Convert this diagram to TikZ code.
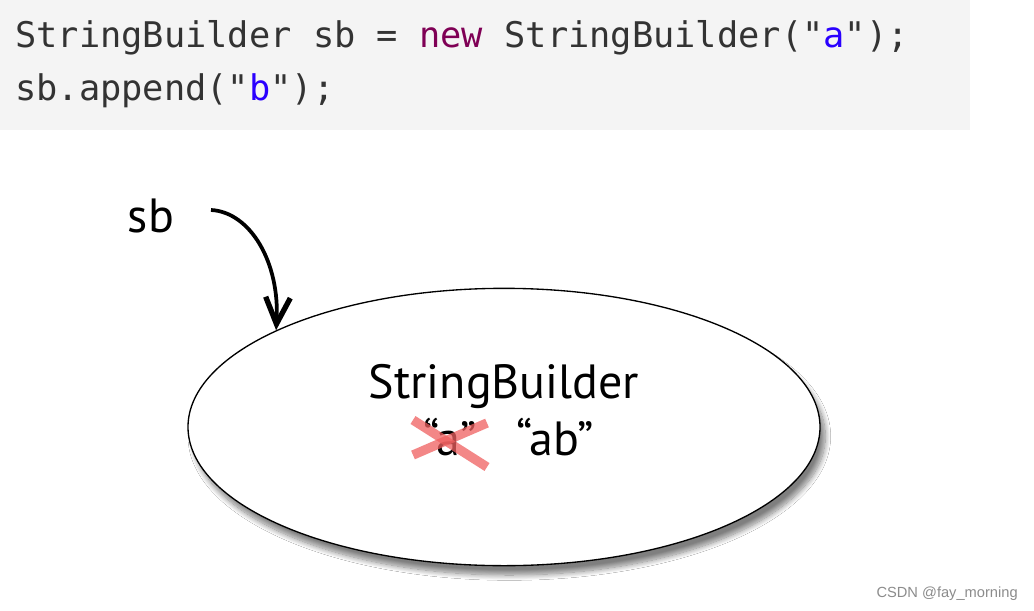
\documentclass[tikz,border=0pt]{standalone}
\usepackage{fontspec}
\setmainfont{PT Sans}
\setmonofont{DejaVu Sans Mono}
\newfontfamily\markfont{Liberation Sans}
\usetikzlibrary{arrows.meta,positioning,shapes.geometric,shadows.blur}
\definecolor{codebg}{HTML}{F4F4F4}
\definecolor{codetext}{HTML}{333333}
\definecolor{keyword}{HTML}{7F0055}
\definecolor{strlit}{HTML}{2A00FF}
\definecolor{crossred}{HTML}{F06060}

\begin{document}
\begin{tikzpicture}[
    x=0.75pt, y=-0.75pt,
    code/.style={anchor=base west, inner sep=0pt, text=codetext,
                 font=\ttfamily\fontsize{26.5}{30}\selectfont},
    txt/.style={anchor=base, inner sep=0pt, font=\fontsize{36}{40}\selectfont},
    obj/.style={draw, ellipse, fill=white, line width=1pt,
                minimum width=474pt, minimum height=208pt,
                blur shadow={shadow xshift=4pt, shadow yshift=-7pt,
                             shadow blur radius=4pt, shadow blur steps=12, shadow opacity=50}},
    ref/.style={-{Straight Barb[length=7mm, width=6.5mm, line width=4pt]}, line width=2.8pt},
    strike/.style={line width=7pt, draw=crossred, opacity=0.75}
]
\useasboundingbox[fill=white] (0,0) rectangle (1034,610);

% code listing
\fill[codebg] (0,0) rectangle (970,130);
\node[code] (line1) at (15,48) {StringBuilder sb = \textcolor{keyword}{new} StringBuilder("\textcolor{strlit}{a}");};
\node[code] (line2) at (15,100) {sb.append("\textcolor{strlit}{b}");};

% reference and object
\node[txt] (sb) at (151,232) {sb};
\node[obj] (sbobj) at (504,427) {};
\node[txt] (cls) at (504,398) {StringBuilder};
\node[txt] (olda) at (450,455) {“a”};
\node[txt] (newab) at (555,455) {“ab”};

\draw[strike] ([shift={(-37,-35)}]olda.base) -- ([shift={(37,12)}]olda.base);
\draw[strike] ([shift={(-37,0)}]olda.base) -- ([shift={(37,-32)}]olda.base);

\draw[ref] ([shift={(60,-22)}]sb.base) .. controls (250,212) and (280,262) .. (sbobj.157);

% watermark
\node[anchor=base east, inner sep=0pt, text=black!45, font=\markfont\fontsize{11}{13}\selectfont] (mark) at (1018,597) {CSDN @fay\_morning};
\end{tikzpicture}
\end{document}
